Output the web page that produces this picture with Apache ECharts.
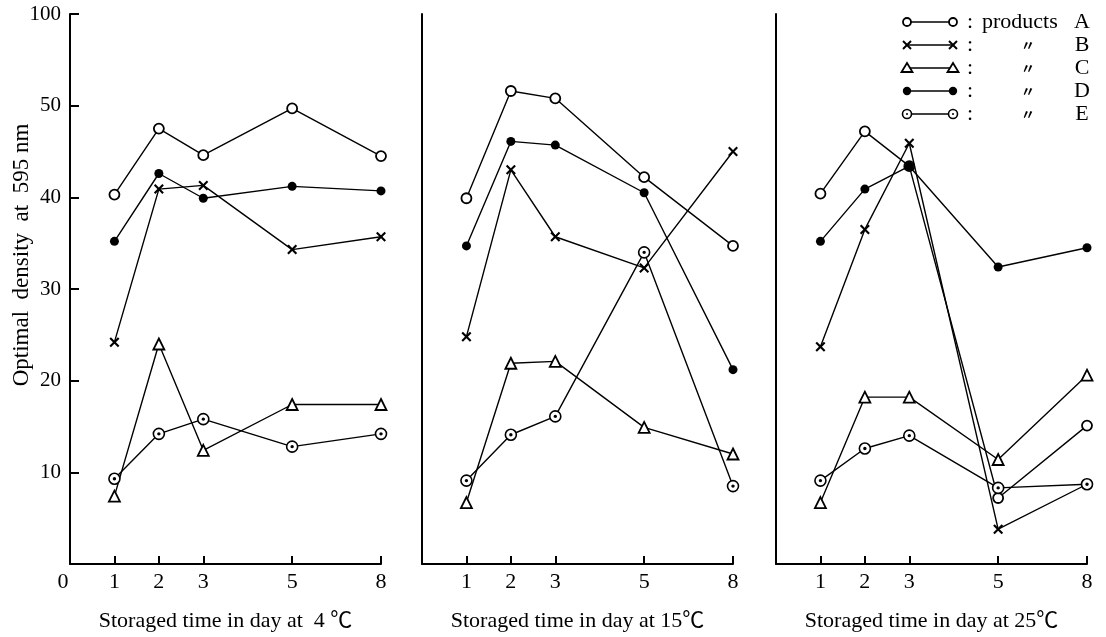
<!DOCTYPE html>
<html>
<head>
<meta charset="utf-8">
<script src="https://cdn.jsdelivr.net/npm/echarts@6/dist/echarts.min.js"></script>
<style>
  html, body { margin: 0; padding: 0; background: #fff; }
  #chart { width: 1106px; height: 637px; }
</style>
</head>
<body>
<div id="chart"></div>
<script>
// storage days, and the three storage temperatures (one panel each)
const days = [1, 2, 3, 5, 8];
const panelTitles = ['Storaged time in day at  4 ℃', 'Storaged time in day at 15℃', 'Storaged time in day at 25℃'];
const products = ['A', 'B', 'C', 'D', 'E'];

// optical density, 4 ℃
const a4 = [40.3, 47.5, 44.6, 49.7, 44.5];
const b4 = [24.2, 40.9, 41.3, 34.3, 35.7];
const c4 = [7.4, 24.0, 12.4, 17.4, 17.4];
const d4 = [35.2, 42.6, 39.9, 41.2, 40.7];
const e4 = [9.3, 14.2, 15.8, 12.8, 14.2];
// 15 ℃
const a15 = [39.9, 51.6, 50.8, 42.2, 34.7];
const b15 = [24.8, 43.0, 35.7, 32.3, 45.0];
const c15 = [6.7, 21.9, 22.1, 14.9, 12.0];
const d15 = [34.7, 46.1, 45.7, 40.5, 21.2];
const e15 = [9.1, 14.1, 16.1, 34.0, 8.5];
// 25 ℃
const a25 = [40.4, 47.2, 43.4, 7.2, 15.1];
const b25 = [23.7, 36.5, 45.9, 3.8, 8.7];
const c25 = [6.7, 18.2, 18.2, 11.4, 20.6];
const d25 = [35.2, 40.9, 43.4, 32.4, 34.5];
const e25 = [9.1, 12.6, 14.0, 8.3, 8.7];

// y axis: 0-50 linear, the top of the axis is marked 100 (broken axis)
const yTickValues = [10, 20, 30, 40, 50, 60];
const yTickLabels = ['10', '20', '30', '40', '50', '100'];

const panels = [[a4, b4, c4, d4, e4], [a15, b15, c15, d15, e15], [a25, b25, c25, d25, e25]];

// the day axis is compressed after day 5 (5 -> 8 takes two units)
function dayToAxis(d) { return d <= 5 ? d : 5 + (d - 5) * 2 / 3; }
function axisToDay(v) { return v <= 5 ? v : 5 + (v - 5) * 3 / 2; }

const FONT = '"Liberation Serif", "Noto Sans CJK JP", serif';
const crossPath = 'path://M0,1.5 L1.5,0 L5,3.5 L8.5,0 L10,1.5 L6.5,5 L10,8.5 L8.5,10 L5,6.5 L1.5,10 L0,8.5 L3.5,5 Z';
const dotCirclePath = 'path://M0,5 A5,5 0 1,1 10,5 A5,5 0 1,1 0,5 Z M4.2,5 A0.8,0.8 0 1,1 5.8,5 A0.8,0.8 0 1,1 4.2,5 Z';

const markers = {
  A: { symbol: 'circle', symbolSize: 10, itemStyle: { color: '#fff', borderColor: '#000', borderWidth: 1.8 } },
  B: { symbol: crossPath, symbolSize: 10, itemStyle: { color: '#000', borderWidth: 0 } },
  C: { symbol: 'triangle', symbolSize: 11, itemStyle: { color: '#fff', borderColor: '#000', borderWidth: 1.8 } },
  D: { symbol: 'circle', symbolSize: 9, itemStyle: { color: '#000', borderWidth: 0 } },
  E: { symbol: dotCirclePath, symbolSize: 11, itemStyle: { color: '#fff', borderColor: '#000', borderWidth: 1.6 } }
};

const gridLefts = [70, 422, 776];
const gridWidth = 311;

const grids = gridLefts.map(l => ({ left: l, top: 14, width: gridWidth, height: 550 }));

const xAxes = gridLefts.map((l, i) => ({
  type: 'value',
  gridIndex: i,
  min: 0,
  max: 7,
  name: panelTitles[i],
  nameLocation: 'middle',
  nameGap: 46,
  nameTextStyle: { fontFamily: FONT, fontSize: 22, color: '#000' },
  axisLine: { show: true, lineStyle: { color: '#000', width: 2 } },
  axisTick: { show: true, inside: true, length: 8, customValues: days.map(dayToAxis), lineStyle: { color: '#000', width: 2 } },
  axisLabel: {
    customValues: (i === 0 ? [0] : []).concat(days.map(dayToAxis)),
    formatter: v => v === 0 ? '{z|0}' : String(Math.round(axisToDay(v))),
    fontFamily: FONT,
    fontSize: 22,
    color: '#000',
    margin: 7,
    rich: { z: { fontFamily: FONT, fontSize: 22, color: '#000', padding: [0, 14, 0, 0] } }
  },
  splitLine: { show: false }
}));

const yAxes = gridLefts.map((l, i) => ({
  type: 'value',
  gridIndex: i,
  min: 0,
  max: 60,
  interval: 10,
  axisLine: { show: true, lineStyle: { color: '#000', width: 2 } },
  axisTick: { show: i === 0, inside: true, length: 9, customValues: yTickValues, lineStyle: { color: '#000', width: 2 } },
  axisLabel: {
    show: i === 0,
    customValues: yTickValues,
    formatter: v => yTickLabels[yTickValues.indexOf(v)] || '',
    fontFamily: FONT,
    fontSize: 21,
    color: '#000',
    margin: 9
  },
  splitLine: { show: false }
}));

const series = [];
panels.forEach((vals, i) => {
  vals.forEach((arr, k) => {
    const m = markers[products[k]];
    series.push({
      name: products[k],
      type: 'line',
      xAxisIndex: i,
      yAxisIndex: i,
      data: days.map((d, j) => [dayToAxis(d), arr[j]]),
      symbol: m.symbol,
      symbolSize: m.symbolSize,
      showSymbol: true,
      itemStyle: m.itemStyle,
      lineStyle: { color: '#000', width: 1.4 },
      z: 2 + k
    });
  });
});

// legend drawn by hand: o—o : products A, etc.
const legendRows = [22, 45, 68, 91, 114];
const lx1 = 907, lx2 = 953;
const graphic = [];
function legendMarker(type, x, y) {
  if (type === 'A') return { type: 'circle', shape: { cx: x, cy: y, r: 4 }, style: { fill: '#fff', stroke: '#000', lineWidth: 1.8 } };
  if (type === 'B') return { type: 'group', children: [
    { type: 'line', shape: { x1: x - 4, y1: y - 4, x2: x + 4, y2: y + 4 }, style: { stroke: '#000', lineWidth: 2 } },
    { type: 'line', shape: { x1: x - 4, y1: y + 4, x2: x + 4, y2: y - 4 }, style: { stroke: '#000', lineWidth: 2 } }
  ] };
  if (type === 'C') return { type: 'polygon', shape: { points: [[x, y - 5], [x + 5.5, y + 4], [x - 5.5, y + 4]] }, style: { fill: '#fff', stroke: '#000', lineWidth: 1.8 } };
  if (type === 'D') return { type: 'circle', shape: { cx: x, cy: y, r: 4.2 }, style: { fill: '#000' } };
  return { type: 'group', children: [
    { type: 'circle', shape: { cx: x, cy: y, r: 4.5 }, style: { fill: '#fff', stroke: '#000', lineWidth: 1.6 } },
    { type: 'circle', shape: { cx: x, cy: y, r: 1 }, style: { fill: '#000' } }
  ] };
}
products.forEach((p, k) => {
  const y = legendRows[k];
  graphic.push({ type: 'line', shape: { x1: lx1, y1: y, x2: lx2, y2: y }, style: { stroke: '#000', lineWidth: 1.5 } });
  graphic.push(legendMarker(p, lx1, y));
  graphic.push(legendMarker(p, lx2, y));
  graphic.push({ type: 'text', x: 967, y: y, style: { text: ':', font: '22px ' + FONT, fill: '#000', verticalAlign: 'middle' } });
  if (k === 0) {
    graphic.push({ type: 'text', x: 982, y: y, style: { text: 'products', font: '22px ' + FONT, fill: '#000', verticalAlign: 'middle' } });
  } else {
    graphic.push({ type: 'text', x: 1028, y: y, style: { text: '〃', font: 'bold 14px "Noto Sans CJK JP"', fill: '#000', align: 'center', verticalAlign: 'middle' } });
  }
  graphic.push({ type: 'text', x: 1082, y: y, style: { text: p, font: '22px ' + FONT, fill: '#000', align: 'center', verticalAlign: 'middle' } });
});
// y axis title
graphic.push({
  type: 'text', x: 22, y: 255, rotation: Math.PI / 2,
  style: { text: 'Optimal  density  at  595 nm', font: '23px ' + FONT, fill: '#000', align: 'center', verticalAlign: 'middle' }
});

const myChart = echarts.init(document.getElementById('chart'));
myChart.setOption({
  animation: false,
  backgroundColor: '#fff',
  grid: grids,
  xAxis: xAxes,
  yAxis: yAxes,
  series: series,
  graphic: graphic
});
window.addEventListener('resize', () => {
  myChart.resize();
});
</script>
</body>
</html>
